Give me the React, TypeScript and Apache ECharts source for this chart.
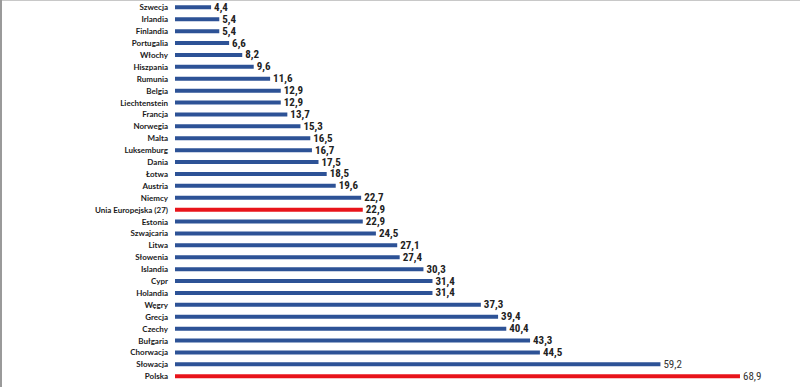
import React, { useEffect, useRef } from "react";
import * as echarts from "echarts";

const categories = [
  "Szwecja", "Irlandia", "Finlandia", "Portugalia", "Włochy", "Hiszpania", "Rumunia", "Belgia",
  "Liechtenstein", "Francja", "Norwegia", "Malta", "Luksemburg", "Dania", "Łotwa", "Austria",
  "Niemcy", "Unia Europejska (27)", "Estonia", "Szwajcaria", "Litwa", "Słowenia", "Islandia",
  "Cypr", "Holandia", "Węgry", "Grecja", "Czechy", "Bułgaria", "Chorwacja", "Słowacja", "Polska",
];
const values = [
  4.4, 5.4, 5.4, 6.6, 8.2, 9.6, 11.6, 12.9, 12.9, 13.7, 15.3, 16.5, 16.7, 17.5, 18.5, 19.6,
  22.7, 22.9, 22.9, 24.5, 27.1, 27.4, 30.3, 31.4, 31.4, 37.3, 39.4, 40.4, 43.3, 44.5, 59.2, 68.9,
];
const highlighted = ["Unia Europejska (27)", "Polska"];
const lightLabels = ["Słowacja", "Polska"];

const BLUE = "#2d5296";
const RED = "#e8141b";

export default function App() {
  const ref = useRef<HTMLDivElement>(null);
  useEffect(() => {
    if (!ref.current) return;
    const chart = echarts.init(ref.current, null, { renderer: "svg" });
    chart.setOption({
      animation: false,
      backgroundColor: "#ffffff",
      grid: { left: 175, top: 1.4, height: 380.8, width: 615, containLabel: false },
      xAxis: {
        type: "value",
        min: 0,
        max: 75,
        show: false,
        splitLine: { show: false },
      },
      yAxis: {
        type: "category",
        inverse: true,
        data: categories,
        axisLine: { show: false },
        axisTick: { show: false },
        axisLabel: {
          margin: 7,
          fontSize: 8,
          fontWeight: "bold",
          color: "#1a1a1a",
          fontFamily: "Lato, Open Sans, sans-serif",
        },
      },
      series: [
        {
          type: "bar",
          barWidth: 4,
          data: categories.map((c, i) => ({
            value: values[i],
            itemStyle: { color: highlighted.includes(c) ? RED : BLUE },
            label: lightLabels.includes(c) ? { fontWeight: "normal", color: "#333333" } : undefined,
          })),
          label: {
            show: true,
            position: "right",
            distance: 3,
            fontSize: 11,
            fontWeight: "bold",
            color: "#222222",
            fontFamily: "Liberation Sans Narrow, Roboto Condensed, Arial Narrow, sans-serif",
            formatter: (p: any) => String(p.value).replace(".", ","),
          },
        },
      ],
      graphic: [
        { type: "rect", left: 0, top: 0, shape: { width: 800, height: 1 }, style: { fill: "#c8c8c8" } },
        { type: "rect", left: 0, top: 0, shape: { width: 2, height: 387 }, style: { fill: "#9a9a9a" } },
      ],
    });
    return () => chart.dispose();
  }, []);
  return (
    <div
      ref={ref}
      style={{ position: "fixed", left: 0, top: 0, width: 800, height: 387, background: "#fff" }}
    />
  );
}
